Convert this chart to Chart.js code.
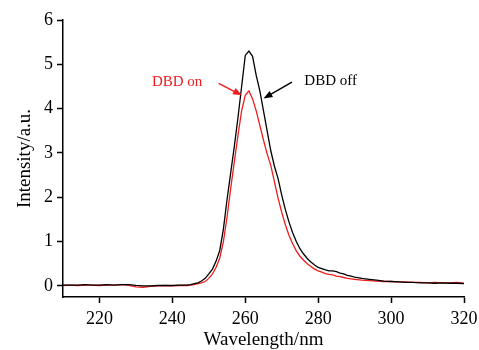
<!DOCTYPE html>
<html>
<head>
    <title>DBD emission spectrum</title>
    <script src="https://cdn.jsdelivr.net/npm/chart.js"></script>
    <style>
        body { margin: 0; background: #fff; }
        #wrap { width: 479px; height: 350px; }
    </style>
    <script>
        // wavelengths (nm), shared by both spectra
        const wavelengths = [
            210, 212, 214, 216, 218, 220, 222, 224, 226, 228, 230, 232, 234, 236, 238, 240, 242, 244,
            245, 246, 247, 248, 249, 250, 251, 252, 253, 254, 255, 256, 257, 258, 259,
            260, 261, 262, 263, 264, 265, 266, 267, 268, 269,
            270, 271, 272, 273, 274, 275, 276, 277, 278, 279,
            280, 281, 282, 283, 284, 285, 286, 287, 288, 289, 290,
            292, 294, 296, 298, 300, 302, 304, 306, 308, 310, 312, 314, 316, 318, 320
        ];
        const dbdOff = [
            0.02, 0.02, 0.02, 0.03, 0.02, 0.02, 0.03, 0.02, 0.03, 0.03, 0.01, 0.00, 0.00, 0.01, 0.01, 0.01, 0.02, 0.02,
            0.03, 0.05, 0.07, 0.11, 0.17, 0.27, 0.38, 0.56, 0.80, 1.28, 1.95, 2.55, 3.15, 3.80, 4.50,
            5.20, 5.30, 5.18, 4.75, 4.40, 3.95, 3.50, 3.05, 2.70, 2.42,
            2.05, 1.72, 1.44, 1.20, 1.00, 0.84, 0.72, 0.62, 0.54, 0.47,
            0.42, 0.39, 0.36, 0.34, 0.34, 0.32, 0.29, 0.27, 0.24, 0.22, 0.20,
            0.17, 0.15, 0.13, 0.11, 0.10, 0.09, 0.08, 0.08, 0.07, 0.07, 0.06, 0.07, 0.06, 0.06, 0.05
        ];
        const dbdOn = [
            0.01, 0.02, 0.01, 0.02, 0.02, 0.01, 0.02, 0.02, 0.03, 0.01, -0.02, -0.03, -0.01, 0.00, 0.01, 0.00, 0.01, 0.01,
            0.02, 0.03, 0.05, 0.07, 0.10, 0.17, 0.27, 0.42, 0.63, 1.00, 1.55, 2.20, 2.80, 3.40, 3.95,
            4.30, 4.40, 4.22, 3.95, 3.62, 3.29, 2.98, 2.72, 2.35, 1.98,
            1.66, 1.38, 1.14, 0.95, 0.79, 0.67, 0.58, 0.50, 0.44, 0.38,
            0.34, 0.31, 0.28, 0.26, 0.25, 0.22, 0.21, 0.19, 0.17, 0.16, 0.15,
            0.13, 0.12, 0.11, 0.10, 0.10, 0.09, 0.09, 0.08, 0.08, 0.07, 0.08, 0.07, 0.07, 0.08, 0.06
        ];
        const xTicks = [220, 240, 260, 280, 300, 320];
        const yTicks = [0, 1, 2, 3, 4, 5, 6];

        // labels with arrows, in data units: text position, arrow tail, arrow head
        const notes = [
            { text: 'DBD on', color: '#ee1c1c', align: 'center', at: [241.3, 4.6], from: [252.7, 4.57], to: [259.1, 4.30] },
            { text: 'DBD off', color: '#000', align: 'left', at: [276.2, 4.62], from: [272.8, 4.6], to: [265.0, 4.23] }
        ];

        const serif = 'Liberation Serif';

        const notesPlugin = {
            id: 'notes',
            afterDatasetsDraw(chart) {
                const ctx = chart.ctx, xs = chart.scales.x, ys = chart.scales.y;
                ctx.save();
                ctx.font = '15px "' + serif + '"';
                ctx.textBaseline = 'middle';
                notes.forEach(n => {
                    ctx.fillStyle = n.color;
                    ctx.strokeStyle = n.color;
                    ctx.textAlign = n.align;
                    ctx.fillText(n.text, xs.getPixelForValue(n.at[0]), ys.getPixelForValue(n.at[1]));
                    const x1 = xs.getPixelForValue(n.from[0]), y1 = ys.getPixelForValue(n.from[1]);
                    const x2 = xs.getPixelForValue(n.to[0]), y2 = ys.getPixelForValue(n.to[1]);
                    const a = Math.atan2(y2 - y1, x2 - x1);
                    const len = 9, half = 3.5;
                    ctx.lineWidth = 1.5;
                    ctx.beginPath();
                    ctx.moveTo(x1, y1);
                    ctx.lineTo(x2 - Math.cos(a) * len * 0.8, y2 - Math.sin(a) * len * 0.8);
                    ctx.stroke();
                    ctx.beginPath();
                    ctx.moveTo(x2, y2);
                    ctx.lineTo(x2 - Math.cos(a) * len - Math.sin(a) * half, y2 - Math.sin(a) * len + Math.cos(a) * half);
                    ctx.lineTo(x2 - Math.cos(a) * len + Math.sin(a) * half, y2 - Math.sin(a) * len - Math.cos(a) * half);
                    ctx.closePath();
                    ctx.fill();
                });
                ctx.restore();
            }
        };

        function series(values) {
            return values.map((v, i) => ({ x: wavelengths[i], y: v }));
        }

        window.onload = function () {
            const ctx = document.getElementById('spectrum').getContext('2d');
            new Chart(ctx, {
                type: 'line',
                data: {
                    datasets: [
                        { label: 'DBD off', data: series(dbdOff), borderColor: '#000', borderWidth: 1.3, pointRadius: 0, tension: 0 },
                        { label: 'DBD on', data: series(dbdOn), borderColor: '#ee1c1c', borderWidth: 1.3, pointRadius: 0, tension: 0 }
                    ]
                },
                options: {
                    responsive: false,
                    animation: false,
                    layout: { padding: { left: 0, right: 15, top: 20, bottom: 0 } },
                    plugins: { legend: { display: false }, tooltip: { enabled: false } },
                    scales: {
                        x: {
                            type: 'linear',
                            min: 210,
                            max: 320,
                            afterBuildTicks: s => { s.ticks = xTicks.map(v => ({ value: v })); },
                            afterFit: s => { s.height = 53; s.paddingLeft = 0; s.paddingRight = 0; },
                            border: { display: true, color: '#000', width: 1.5 },
                            grid: { drawOnChartArea: false, drawTicks: true, tickLength: 6, tickColor: '#000', tickWidth: 1.5 },
                            ticks: { color: '#000', padding: 5, maxRotation: 0, font: { family: serif, size: 18 } },
                            title: {
                                display: true, text: 'Wavelength/nm', color: '#000',
                                font: { family: serif, size: 19, lineHeight: 1 }, padding: { top: 0, bottom: 0.5 }
                            }
                        },
                        y: {
                            min: -0.25,
                            max: 6,
                            afterBuildTicks: s => { s.ticks = yTicks.map(v => ({ value: v })); },
                            afterFit: s => { s.width = 63; s.paddingTop = 0; s.paddingBottom = 0; },
                            border: { display: true, color: '#000', width: 1.5 },
                            grid: { drawOnChartArea: false, drawTicks: true, tickLength: 6, tickColor: '#000', tickWidth: 1.5 },
                            ticks: { color: '#000', padding: 4, font: { family: serif, size: 18 } },
                            title: {
                                display: true, text: 'Intensity/a.u.', color: '#000',
                                font: { family: serif, size: 19, lineHeight: 1 }, padding: { top: 15.5, bottom: 0 }
                            }
                        }
                    }
                },
                plugins: [notesPlugin]
            });
        };
    </script>
</head>
<body>
<div id="wrap"><canvas id="spectrum" width="479" height="350"></canvas></div>
</body>
</html>
